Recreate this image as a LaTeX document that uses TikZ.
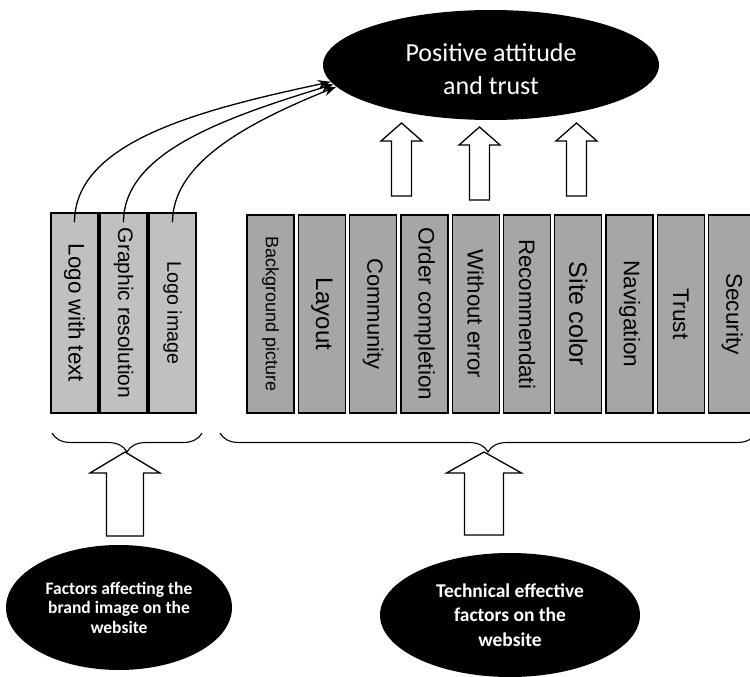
\documentclass[tikz,border=0pt]{standalone}
\usepackage{fontspec}
\newfontfamily\boxfont{Liberation Sans}
\newfontfamily\ovalfont{Carlito}
\usetikzlibrary{shapes.geometric,decorations.pathreplacing,arrows.meta}

\definecolor{brandgray}{RGB}{192,192,192}
\definecolor{techgray}{RGB}{166,166,166}

\tikzset{
  factor/.style={draw, line width=1.3pt, rotate=-90, minimum width=198pt,
    minimum height=47pt, inner sep=1pt},
  logobox/.style={factor, fill=brandgray, minimum width=200pt},
  techbox/.style={factor, fill=techgray},
  oval/.style={ellipse, fill=black, text=white, align=center, inner sep=0pt},
  hollow/.style={draw, fill=white, line width=1.3pt},
  curly/.style={decorate, decoration={brace, mirror, amplitude=19pt}, line width=1.1pt},
  link/.style={line width=1.3pt, ->, >={Stealth[length=13pt,width=9pt]},
    out looseness=0.7, in looseness=1.2},
}

% x, bottom y, tip y, shoulder y, half shaft, half head
\newcommand{\blockup}[6]{
  \draw[hollow] (#1-#5,#2) -- (#1-#5,#4) -- (#1-#6,#4) -- (#1,#3)
    -- (#1+#6,#4) -- (#1+#5,#4) -- (#1+#5,#2) -- cycle;
}

\begin{document}
\begin{tikzpicture}[x=1pt,y=1pt]
\useasboundingbox (0,0) rectangle (750,-677);

\node[oval, minimum width=336pt, minimum height=110pt, text height=59pt,
  font=\ovalfont\fontsize{26}{33}\selectfont] (top) at (491,-65) {Positive attitude\\and trust};

% brand image boxes
\foreach \i/\txt/\fs in {1/Logo with text/22.4, 2/Graphic resolution/21, 3/Logo image/19.7}{
    \node[logobox, font=\boxfont\fontsize{\fs}{\fs}\selectfont] (b\i) at (25.5+49*\i,-313) {\txt};
}

% technical boxes
\foreach \i/\txt/\fs in {0/Background picture/18, 1/Layout/24, 2/Community/22,
    3/Order completion/22.5, 4/Without error/22.3, 5/Recommendati/22.3,
    6/Site color/25, 7/Navigation/22.6, 8/Trust/22.7, 9/Security/22.6}{
    \node[techbox, font=\boxfont\fontsize{\fs}{\fs}\selectfont] (t\i) at (270.5+51.3*\i,-314) {\txt};
}

\draw[link] ([yshift=-10pt]b1.west) to[out=90,in=192] (top.186);
\draw[link] ([yshift=-10pt]b2.west) to[out=90,in=197] (top.187);
\draw[link] ([yshift=-10pt]b3.west) to[out=90,in=202] (top.188);

\blockup{401.5}{-196}{-123}{-141}{10}{20.5}
\blockup{479.5}{-200}{-127}{-145}{10}{20.5}
\blockup{576.5}{-196}{-123}{-141}{10}{20.5}

\draw[curly] (52,-433) -- (202,-433);
\draw[curly] (220,-433) -- (756,-433);

\blockup{125}{-536}{-452}{-473}{18.5}{35}
\blockup{484}{-535}{-452}{-473}{19.5}{37.5}

\node[oval, minimum width=226pt, minimum height=125pt,
  font=\ovalfont\bfseries\fontsize{17.5}{19.5}\selectfont] (brand) at (119,-607.5)
  {Factors affecting the\\brand image on the\\website};
\node[oval, minimum width=260pt, minimum height=124pt,
  font=\ovalfont\bfseries\fontsize{19.5}{24.5}\selectfont] (tech) at (510,-615)
  {Technical effective\\factors on the\\website};
\end{tikzpicture}
\end{document}
